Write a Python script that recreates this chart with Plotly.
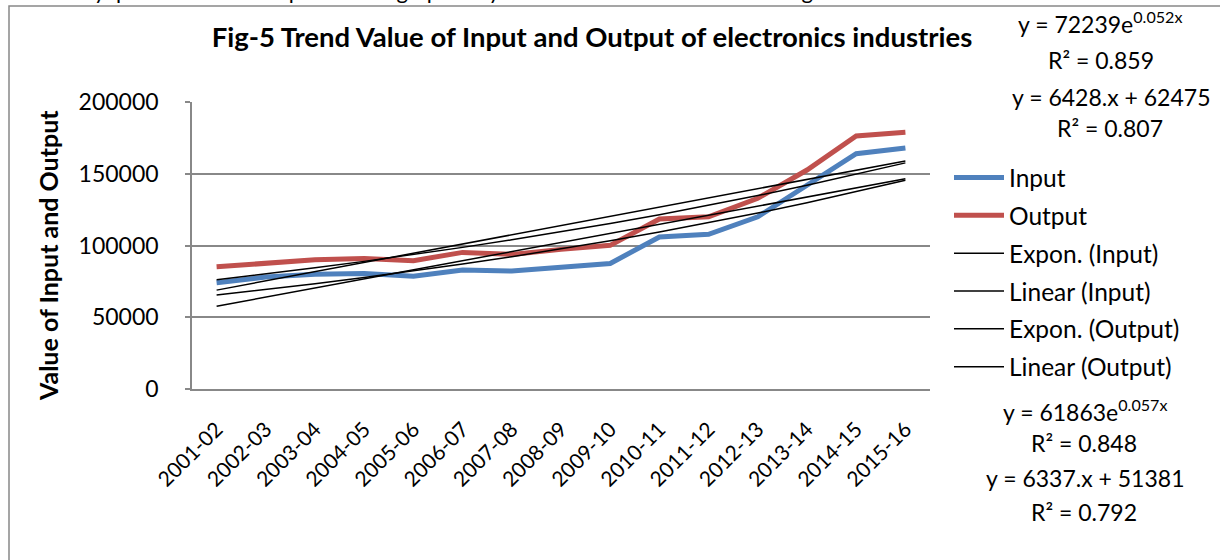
import numpy as np
import plotly.graph_objects as go

# ---- data ----
years = ["2001-02", "2002-03", "2003-04", "2004-05", "2005-06", "2006-07", "2007-08",
         "2008-09", "2009-10", "2010-11", "2011-12", "2012-13", "2013-14", "2014-15", "2015-16"]
input_vals = [74000, 78000, 80000, 80500, 78500, 83000, 82200, 84800, 87500,
              105900, 107800, 120000, 142000, 164000, 168000]
output_vals = [85200, 87800, 90000, 91000, 89400, 95200, 93800, 97300, 100100,
               118500, 120000, 132900, 152600, 176300, 178900]

# trendline coefficients as printed on the chart
exp_input = (61863, 0.057)
lin_input = (6337, 51381)
exp_output = (72239, 0.052)
lin_output = (6428, 62475)

eq_texts = ["y = 72239e<sup>0.052x</sup>", "R² = 0.859", "y = 6428.x + 62475", "R² = 0.807",
            "y = 61863e<sup>0.057x</sup>", "R² = 0.848", "y = 6337.x + 51381", "R² = 0.792"]

# ---- layout geometry (pixels) ----
W, H = 1220, 560
PL, PR, PT, PB = 192, 930, 102, 389


def px(x):
    return (x - PL) / (PR - PL)


def py(y):
    return (PB - y) / (PB - PT)


FONT = "Lato"
idx = np.arange(1, len(years) + 1)

fig = go.Figure()
fig.add_trace(go.Scatter(x=years, y=input_vals, mode="lines", name="Input",
                         line=dict(color="#4F81BD", width=5), legendgroup="a"))
fig.add_trace(go.Scatter(x=years, y=output_vals, mode="lines", name="Output",
                         line=dict(color="#C0504D", width=5), legendgroup="b"))
trend = [
    ("Expon. (Input)", exp_input[0] * np.exp(exp_input[1] * idx), "c"),
    ("Linear (Input)", lin_input[0] * idx + lin_input[1], "d"),
    ("Expon. (Output)", exp_output[0] * np.exp(exp_output[1] * idx), "e"),
    ("Linear (Output)", lin_output[0] * idx + lin_output[1], "f"),
]
for name, vals, g in trend:
    fig.add_trace(go.Scatter(x=years, y=vals, mode="lines", name=name,
                             line=dict(color="black", width=1.5), legendgroup=g))

eq_pos = [(1100, 22), (1101, 60), (1111, 97), (1110, 128),
          (1085, 410), (1084, 443), (1085, 478), (1084, 512)]
annotations = []
for t, (x, y) in zip(eq_texts, eq_pos):
    annotations.append(dict(text=t, x=px(x), y=py(y), xref="paper", yref="paper",
                            xanchor="center", yanchor="middle", showarrow=False,
                            font=dict(family=FONT, size=23, color="black")))

# y-axis title
annotations.append(dict(text="<b>Value of Input and Output</b>", x=px(48), y=py(256),
                        xref="paper", yref="paper", textangle=-90, showarrow=False,
                        xanchor="center", yanchor="middle",
                        font=dict(family=FONT, size=25, color="black")))
# cut-off page text above chart
annotations.append(dict(text="the  study  period  can  be  represented  graphically  in",
                        x=px(7), y=py(6), xref="paper", yref="paper", xanchor="left",
                        yanchor="bottom", showarrow=False,
                        font=dict(family=FONT, size=22, color="black")))
annotations.append(dict(text="figure-5.", x=px(787), y=py(6), xref="paper", yref="paper",
                        xanchor="left", yanchor="bottom", showarrow=False,
                        font=dict(family=FONT, size=22, color="black")))

fig.update_layout(
    width=W, height=H, autosize=False,
    margin=dict(l=PL, r=W - PR, t=PT, b=H - PB, pad=0, autoexpand=False),
    paper_bgcolor="white", plot_bgcolor="white",
    title=dict(text="<b>Fig-5 Trend Value of Input and Output of electronics industries</b>",
               x=592 / W, y=1 - 37 / H, xref="container", yref="container",
               xanchor="center", yanchor="middle",
               font=dict(family=FONT, size=27.5, color="black")),
    font=dict(family=FONT, color="black"),
    showlegend=True,
    legend=dict(x=949 / W, y=1 - 155 / H, xref="container", yref="container",
                xanchor="left", yanchor="top",
                font=dict(family=FONT, size=24.5, color="black"),
                tracegroupgap=3, bgcolor="rgba(0,0,0,0)", itemwidth=50),
    annotations=annotations,
    shapes=[dict(type="rect", xref="paper", yref="paper",
                 x0=px(9), x1=px(1232), y0=py(590), y1=py(6),
                 line=dict(color="#888888", width=1.5), fillcolor="rgba(0,0,0,0)",
                 layer="below")],
    xaxis=dict(type="category", range=[-0.5, len(years) - 0.5], showgrid=False,
               showline=True, linecolor="#888888",
               linewidth=1.5, ticks="", tickangle=-45, automargin=False,
               tickfont=dict(family=FONT, size=21, color="black"),
               ticklabelstandoff=18, zeroline=False),
    yaxis=dict(range=[0, 200000], dtick=50000, showgrid=True, gridcolor="#888888",
               gridwidth=1.5, showline=True, linecolor="#888888", linewidth=1.5,
               ticks="outside", ticklen=5, tickcolor="#888888", tickwidth=1.5,
               automargin=False,
               tickfont=dict(family=FONT, size=23, color="black"),
               ticklabelstandoff=22, tickformat="d", zeroline=False),
)

fig.write_html("out.html", config={"displayModeBar": False},
               post_script="document.body.style.margin='0';document.body.style.overflow='hidden';")
